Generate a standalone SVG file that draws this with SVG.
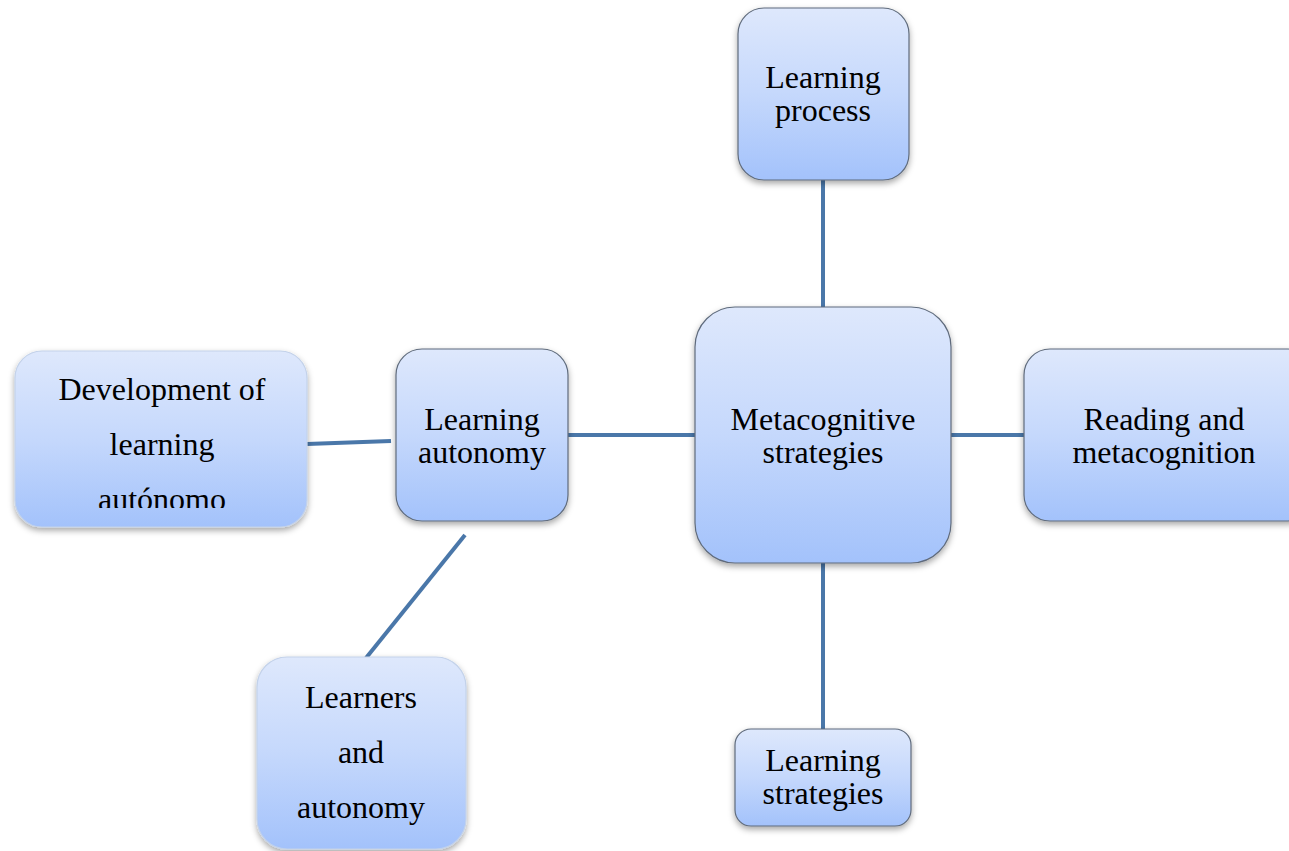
<svg xmlns="http://www.w3.org/2000/svg" width="1289" height="851" viewBox="0 0 1289 851">
<defs>
<linearGradient id="g" x1="0" y1="0" x2="0" y2="1">
<stop offset="0" stop-color="#dee8fc"/>
<stop offset="0.5" stop-color="#c5d8fc"/>
<stop offset="1" stop-color="#a3c2fb"/>
</linearGradient>
<filter id="sh" x="-10%" y="-10%" width="120%" height="125%">
<feDropShadow dx="0" dy="3" stdDeviation="3" flood-color="#000" flood-opacity="0.35"/>
</filter>
<clipPath id="devclip"><rect x="15" y="351" width="292" height="157"/></clipPath>
</defs>
<style>
.box{fill:url(#g);stroke:#5f6b7c;stroke-width:1.2;filter:url(#sh)}
.lbox{fill:url(#g);stroke:#c3d2ea;stroke-width:1.2;filter:url(#sh)}
.t{font-family:"Liberation Serif","Times New Roman",serif;font-size:32px;fill:#000;text-anchor:middle}
.c{stroke:#4a77a9;stroke-width:4;fill:none}
</style>
<rect width="1289" height="851" fill="#fff"/>
<g id="connectors">
<line class="c" x1="823" y1="180" x2="823" y2="308"/>
<line class="c" x1="568" y1="435" x2="696" y2="435"/>
<line class="c" x1="951" y1="435" x2="1025" y2="435"/>
<line class="c" x1="823" y1="563" x2="823" y2="730"/>
<line class="c" x1="307" y1="444" x2="391" y2="441"/>
<line class="c" x1="465" y1="535" x2="366" y2="658"/>
</g>
<g id="learning-process">
<rect class="box" x="738" y="8" width="171" height="172" rx="26"/>
<text class="t" x="823" y="88">Learning</text>
<text class="t" x="823" y="121">process</text>
</g>
<g id="metacognitive-strategies">
<rect class="box" x="695" y="307" width="256" height="256" rx="40"/>
<text class="t" x="823" y="430">Metacognitive</text>
<text class="t" x="823" y="463">strategies</text>
</g>
<g id="reading-metacognition">
<rect class="box" x="1024" y="349" width="290" height="172" rx="26"/>
<text class="t" x="1164" y="430">Reading and</text>
<text class="t" x="1164" y="463">metacognition</text>
</g>
<g id="learning-autonomy">
<rect class="box" x="396" y="349" width="172" height="172" rx="26"/>
<text class="t" x="482" y="430">Learning</text>
<text class="t" x="482" y="463">autonomy</text>
</g>
<g id="development">
<rect class="lbox" x="15" y="351" width="292" height="176" rx="27"/>
<g clip-path="url(#devclip)">
<text class="t" x="162" y="400">Development of</text>
<text class="t" x="162" y="455">learning</text>
<text class="t" x="162" y="510">autónomo</text>
</g>
</g>
<g id="learners-autonomy">
<rect class="lbox" x="257" y="657" width="209" height="192" rx="30"/>
<text class="t" x="361" y="708">Learners</text>
<text class="t" x="361" y="763">and</text>
<text class="t" x="361" y="818">autonomy</text>
</g>
<g id="learning-strategies">
<rect class="box" x="735" y="729" width="176" height="97" rx="16"/>
<text class="t" x="823" y="771">Learning</text>
<text class="t" x="823" y="804">strategies</text>
</g>
</svg>
